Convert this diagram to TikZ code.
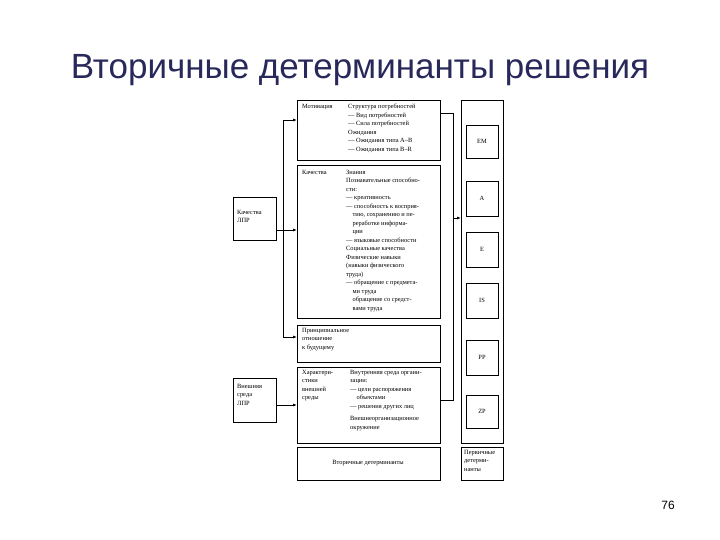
\documentclass[tikz,border=0pt]{standalone}
\usepackage{fontspec}
\setmainfont{Liberation Serif}
\newfontfamily\titlefont{Liberation Sans}
\usetikzlibrary{arrows.meta}
\definecolor{titlec}{RGB}{40,40,90}
\begin{document}
\begin{tikzpicture}[x=1pt,y=-1pt,
  bx/.style={draw,line width=0.8pt},
  txt/.style={font=\fontsize{6.4}{8.5}\selectfont,align=left,anchor=north west,inner sep=0pt},
  ctr/.style={font=\fontsize{6.4}{8.5}\selectfont,align=center,inner sep=0pt},
  ar/.style={-{Latex[length=4pt,width=3pt]},line width=0.8pt},
  ln/.style={line width=0.8pt}]
\useasboundingbox (0,0) rectangle (720,540);
\node[font=\titlefont\fontsize{35}{38}\selectfont,text=titlec] (title) at (360,70) {Вторичные детерминанты решения};
\node[font=\titlefont\fontsize{12}{14}\selectfont] (pg) at (668,505) {76};
% left boxes
\draw[bx] (233,197) rectangle (276,240); \node[txt] (q) at (237,210) {Качества\\ЛПР};
\coordinate (qR) at (276,230);
\draw[bx] (233,378) rectangle (276,422); \node[txt] (ve) at (237,384) {Внешняя\\среда\\ЛПР};
\coordinate (veR) at (276,405);
% middle boxes
\draw[bx] (297,100) rectangle (440,160);
\node[txt] (m1) at (302,104) {Мотивация};
\node[txt] (m2) at (348,104) {Структура потребностей\\— Вид потребностей\\— Сила потребностей\\Ожидания\\— Ожидания типа А–В\\— Ожидания типа В–R};
\draw[bx] (297,165) rectangle (440,318);
\node[txt] (k1) at (302,170) {Качества};
\node[txt] (k2) at (346,170) {Знания\\Познавательные способно-\\сти:\\— креативность\\— способность к восприя-\\\quad тию, сохранению и пе-\\\quad реработке информа-\\\quad ции\\— языковые способности\\Социальные качества\\Физические навыки\\(навыки физического\\труда)\\— обращение с предмета-\\\quad ми труда\\\quad обращение со средст-\\\quad вами труда};
\draw[bx] (297,325) rectangle (440,362);
\node[txt] (p) at (302,328) {Принципиальное\\отношение\\к будущему};
\draw[bx] (297,367) rectangle (440,443);
\node[txt] (h1) at (302,370) {Характери-\\стики\\внешней\\среды};
\node[txt] (h2) at (350,370) {Внутренняя среда органи-\\зации:\\— цели распоряжения\\\quad объектами\\— решения других лиц\\[4pt]Внешнеорганизационное\\окружение};
\draw[bx] (297,447) rectangle (440,480);
\node[ctr] (vd) at (368,463) {Вторичные детерминанты};
% right column
\draw[bx] (461,100) rectangle (503,443);
\foreach \n/\a/\b/\t in {em/125/158/EM,a/181/216/A,e/232/267/E,is/283/318/IS,pp/340/375/PP,zp/395/428/ZP}{
  \draw[bx] (466,\a) rectangle (498,\b);
  \node[ctr] (\n) at (482,{(\a+\b)/2}) {\t};
}
\draw[bx] (461,447) rectangle (503,480);
\node[txt] (pd) at (464,450) {Первичные\\детерми-\\нанты};
% connectors
\draw[ln] (qR) -- (283,230);
\draw[ln] (283,120) -- (283,337);
\draw[ar] (283,120) -- (297,120);
\draw[ar] (283,230) -- (297,230);
\draw[ar] (283,337) -- (297,337);
\draw[ar] (veR) -- (297,405);
\draw[ln] (440,113) -- (453,113) -- (453,400) -- (440,400);
\draw[ar] (453,218) -- (461,218);
\end{tikzpicture}
\end{document}
